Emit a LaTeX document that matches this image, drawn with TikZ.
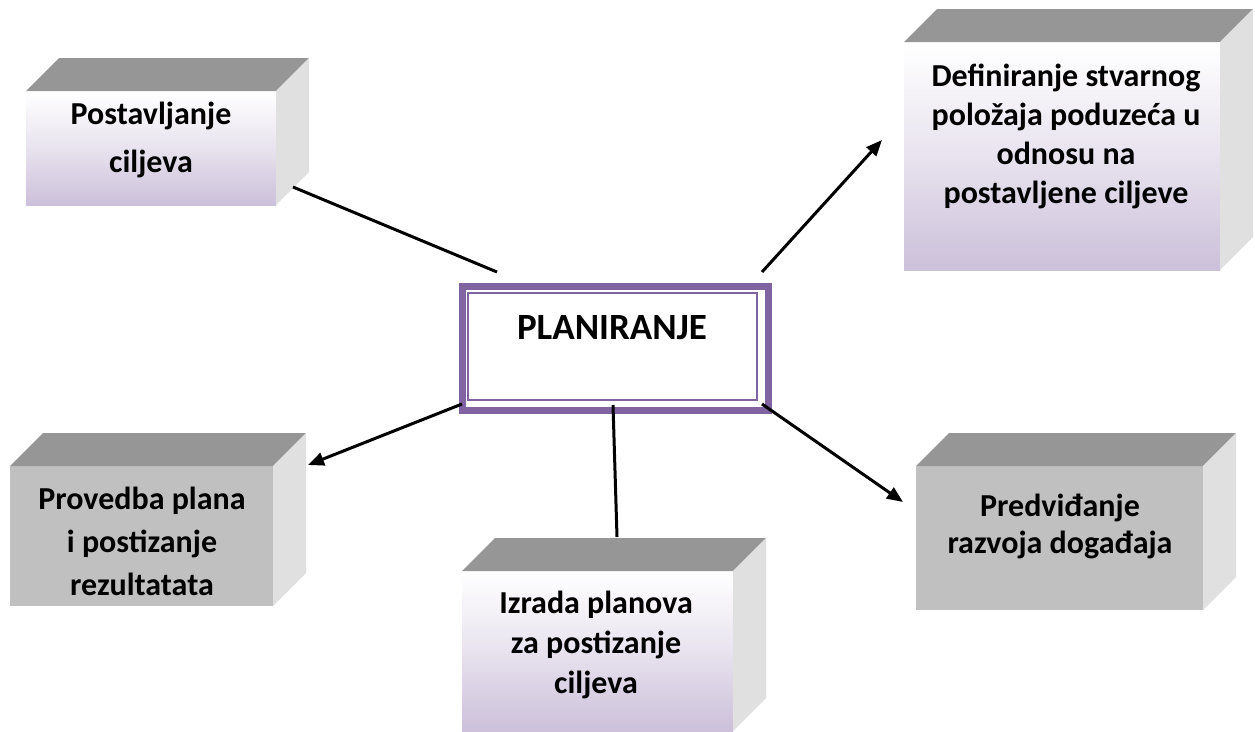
\documentclass[tikz,border=0pt]{standalone}
\usepackage{fontspec}
\setmainfont{Carlito}
\usetikzlibrary{arrows.meta}
\definecolor{purp}{HTML}{8064A2}
\definecolor{lav}{HTML}{CCC0DA}
\definecolor{topg}{HTML}{969696}
\definecolor{sideg}{HTML}{E0E0E0}
\definecolor{frontg}{HTML}{C0C0C0}
\tikzset{
  front/.style={draw=none, inner sep=0pt, outer sep=0pt, anchor=north west},
  lavface/.style={front, top color=white, bottom color=lav, middle color=white!55!lav},
  grayface/.style={front, fill=frontg},
  lbl/.style={font=\fontsize{32}{38}\selectfont\bfseries, align=center, anchor=base, inner sep=0pt},
  conn/.style={line width=3pt, black},
  arr/.style={conn, -{Triangle[length=16pt,width=13pt]}},
}
\newcommand\cubefaces[1]{%
  \fill[topg] (#1.north west) -- ([shift={(33,-33)}]#1.north west) -- ([shift={(33,-33)}]#1.north east) -- (#1.north east) -- cycle;
  \fill[sideg] (#1.north east) -- ([shift={(33,-33)}]#1.north east) -- ([shift={(33,-33)}]#1.south east) -- (#1.south east) -- cycle;
}
\begin{document}
\begin{tikzpicture}[x=1pt,y=-1pt]
\useasboundingbox (0,0) rectangle (1255,731);
\fill[white] (0,0) rectangle (1255,731);
% boxes
\node[lavface, minimum width=250pt, minimum height=114pt] (b1) at (26,91) {};
\cubefaces{b1}
\node[lavface, minimum width=316pt, minimum height=228pt] (b2) at (904,42) {};
\cubefaces{b2}
\node[grayface, minimum width=263pt, minimum height=140pt] (b3) at (10,466) {};
\cubefaces{b3}
\node[lavface, minimum width=271pt, minimum height=160pt] (b4) at (462,571) {};
\cubefaces{b4}
\node[grayface, minimum width=287pt, minimum height=144pt] (b5) at (916,466) {};
\cubefaces{b5}
% labels (base anchor = baseline of last line)
\node[lbl, font=\fontsize{32}{48}\selectfont\bfseries] (t1) at (151,172) {Postavljanje\\ciljeva};
\node[lbl, font=\fontsize{32}{38.7}\selectfont\bfseries] (t2) at (1066,203) {Definiranje stvarnog\\položaja poduzeća u\\odnosu na\\postavljene ciljeve};
\node[lbl, font=\fontsize{32}{43}\selectfont\bfseries] (t3) at (142,595) {Provedba plana\\i postizanje\\rezultatata};
\node[lbl, font=\fontsize{32}{40}\selectfont\bfseries] (t4) at (596,693) {Izrada planova\\za postizanje\\ciljeva};
\node[lbl, font=\fontsize{32}{37}\selectfont\bfseries] (t5) at (1060,553) {Predviđanje\\razvoja događaja};
% central box
\node[draw=purp, line width=7pt, fill=white, minimum width=306pt, minimum height=124pt, inner sep=0pt, anchor=north west] (plan) at (458.5,282.5) {};
\node[draw=purp, line width=2pt, minimum width=289pt, minimum height=107pt, inner sep=0pt, anchor=north west] (planin) at (467,292) {};
\node[lbl, font=\fontsize{37}{40}\selectfont\bfseries] (pt) at (612,339) {PLANIRANJE};
% connectors
\coordinate (p1) at (293,187); \coordinate (q1) at (497,272);
\coordinate (p2) at (762,272); \coordinate (q2) at (882,140);
\coordinate (p3) at (462,404); \coordinate (q3) at (308,465);
\coordinate (p4) at (613,405); \coordinate (q4) at (617,537);
\coordinate (p5) at (762,404); \coordinate (q5) at (903,502);
\draw[conn] (p1) -- (q1);
\draw[arr] (p2) -- (q2);
\draw[arr] (p3) -- (q3);
\draw[conn] (p4) -- (q4);
\draw[arr] (p5) -- (q5);
\end{tikzpicture}
\end{document}
